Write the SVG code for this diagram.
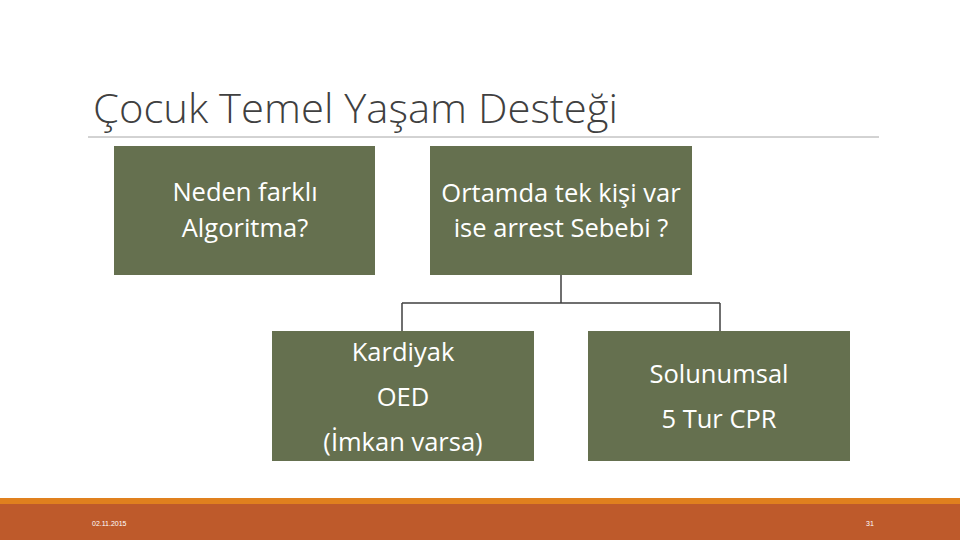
<svg xmlns="http://www.w3.org/2000/svg" width="960" height="540" viewBox="0 0 960 540">
<style>
.box{fill:#65704f;}
.t{font-family:"Open Sans","Liberation Sans",sans-serif;font-size:25.5px;fill:#ffffff;text-anchor:middle;}
.c{stroke:#404040;stroke-width:1.5;fill:none;}
.f{font-family:"Liberation Sans",sans-serif;font-size:7px;fill:#ffffff;}
</style>
<rect width="960" height="540" fill="#ffffff"/>
<text x="93" y="123" font-family="Open Sans, Liberation Sans, sans-serif" font-weight="300" font-size="40" fill="#404040" textLength="525" lengthAdjust="spacingAndGlyphs">Çocuk Temel Yaşam Desteği</text>
<line x1="88" y1="137" x2="879" y2="137" stroke="#a6a6a6" stroke-width="1"/>
<g id="connectors">
<path class="c" d="M561 275 V303 M402 303 H720 M402 303 V331 M720 303 V331"/>
</g>
<g id="n1">
<rect class="box" x="114" y="146" width="261" height="129"/>
<text class="t" x="245" y="201">Neden farklı</text>
<text class="t" x="245" y="237">Algoritma?</text>
</g>
<g id="n2">
<rect class="box" x="430" y="146" width="262" height="129"/>
<text class="t" x="561" y="202">Ortamda tek kişi var</text>
<text class="t" x="561" y="237">ise arrest Sebebi ?</text>
</g>
<g id="n3">
<rect class="box" x="272" y="331" width="262" height="130"/>
<text class="t" x="403" y="361">Kardiyak</text>
<text class="t" x="403" y="406">OED</text>
<text class="t" x="403" y="451">(İmkan varsa)</text>
</g>
<g id="n4">
<rect class="box" x="588" y="331" width="262" height="130"/>
<text class="t" x="719" y="383">Solunumsal</text>
<text class="t" x="719" y="428">5 Tur CPR</text>
</g>
<rect x="0" y="498" width="960" height="7" fill="#e0801e"/>
<rect x="0" y="504" width="960" height="36" fill="#be5a2b"/>
<text class="f" x="92" y="526">02.11.2015</text>
<text class="f" x="866" y="526">31</text>
</svg>
